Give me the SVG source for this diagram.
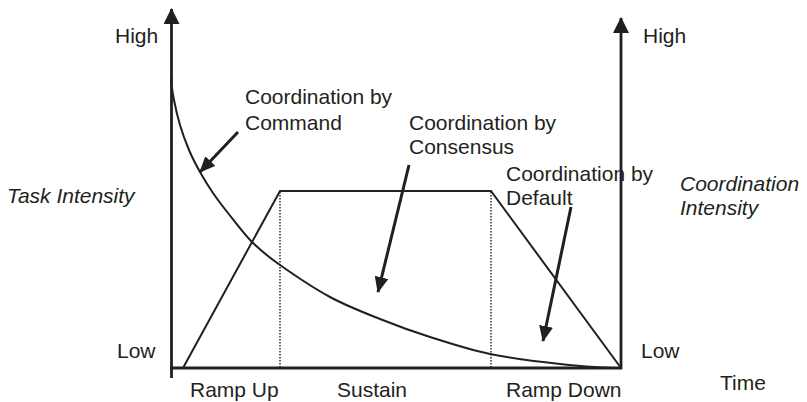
<svg xmlns="http://www.w3.org/2000/svg" width="807" height="402" viewBox="0 0 807 402">
  <style>
    .lbl { font-family: "Liberation Sans", Arial, sans-serif; font-size: 21px; fill: #231f20; }
    .it { font-style: italic; }
    .axis { stroke: #231f20; stroke-width: 2.8; fill: none; }
    .line { stroke: #231f20; stroke-width: 2; fill: none; }
    .dot { stroke: #231f20; stroke-width: 1.4; stroke-dasharray: 1.5 1.5; fill: none; }
    .ann { stroke: #231f20; stroke-width: 3; fill: none; }
  </style>
  <defs>
    <marker id="head" viewBox="0 0 16 14" refX="15" refY="7" markerWidth="16" markerHeight="14" markerUnits="userSpaceOnUse" orient="auto">
      <path d="M0,0 L16,7 L0,14 Z" fill="#231f20"/>
    </marker>
    <marker id="axhead" viewBox="0 0 16 16" refX="15" refY="8" markerWidth="16" markerHeight="16" markerUnits="userSpaceOnUse" orient="auto">
      <path d="M0,0 L16,8 L0,16 Z" fill="#231f20"/>
    </marker>
  </defs>

  <!-- axes -->
  <g id="axes">
    <line class="axis" x1="171.5" y1="378" x2="171.5" y2="9" marker-end="url(#axhead)"/>
    <line class="axis" x1="621" y1="369" x2="621" y2="18" marker-end="url(#axhead)"/>
    <line class="axis" x1="170" y1="368" x2="622" y2="368"/>
  </g>

  <!-- task intensity: decaying curve -->
  <g id="command-curve">
    <path class="line" d="M171,78 C171,82 172.5,92.17 174,100 C175.5,107.83 177.5,116.67 180,125 C182.5,133.33 185.67,142.17 189,150 C192.33,157.83 196,164.83 200,172 C204,179.17 208.33,186.17 213,193 C217.67,199.83 221.5,204.83 228,213 C234.5,221.17 243.33,233.33 252,242 C260.67,250.67 267,255.83 280,265 C293,274.17 313.33,288 330,297 C346.67,306 363.33,312.33 380,319 C396.67,325.67 411.67,331.17 430,337 C448.33,342.83 468.33,349.5 490,354 C511.67,358.5 538.17,361.67 560,364 C581.83,366.33 611,368 621,368"/>
  </g>

  <!-- coordination intensity: ramp up, sustain, ramp down -->
  <g id="phases">
    <polyline class="line" points="183,368 280,191 491,191 621,368"/>
    <line class="dot" x1="280" y1="192" x2="280" y2="367"/>
    <line class="dot" x1="491" y1="192" x2="491" y2="367"/>
  </g>

  <!-- annotation arrows -->
  <g id="connectors">
    <line class="ann" x1="238" y1="132" x2="200" y2="172" marker-end="url(#head)"/>
    <line class="ann" x1="409" y1="165" x2="378" y2="292" marker-end="url(#head)"/>
    <line class="ann" x1="571" y1="207" x2="543" y2="341" marker-end="url(#head)"/>
  </g>

  <g id="left-axis-labels">
    <text class="lbl" x="115" y="43">High</text>
    <text class="lbl" x="117" y="358">Low</text>
    <text class="lbl it" x="7" y="203">Task Intensity</text>
  </g>

  <g id="right-axis-labels">
    <text class="lbl" x="643" y="43">High</text>
    <text class="lbl" x="641" y="358">Low</text>
    <text class="lbl it" x="680" y="191">Coordination</text>
    <text class="lbl it" x="680" y="215">Intensity</text>
  </g>

  <g id="label-command">
    <text class="lbl" x="245" y="104">Coordination by</text>
    <text class="lbl" x="245" y="130">Command</text>
  </g>
  <g id="label-consensus">
    <text class="lbl" x="409" y="130">Coordination by</text>
    <text class="lbl" x="409" y="154">Consensus</text>
  </g>
  <g id="label-default">
    <text class="lbl" x="506" y="181">Coordination by</text>
    <text class="lbl" x="506" y="205">Default</text>
  </g>

  <g id="time-labels">
    <text class="lbl" x="190" y="397">Ramp Up</text>
    <text class="lbl" x="337" y="397">Sustain</text>
    <text class="lbl" x="506" y="397">Ramp Down</text>
    <text class="lbl" x="720" y="390">Time</text>
  </g>
</svg>
